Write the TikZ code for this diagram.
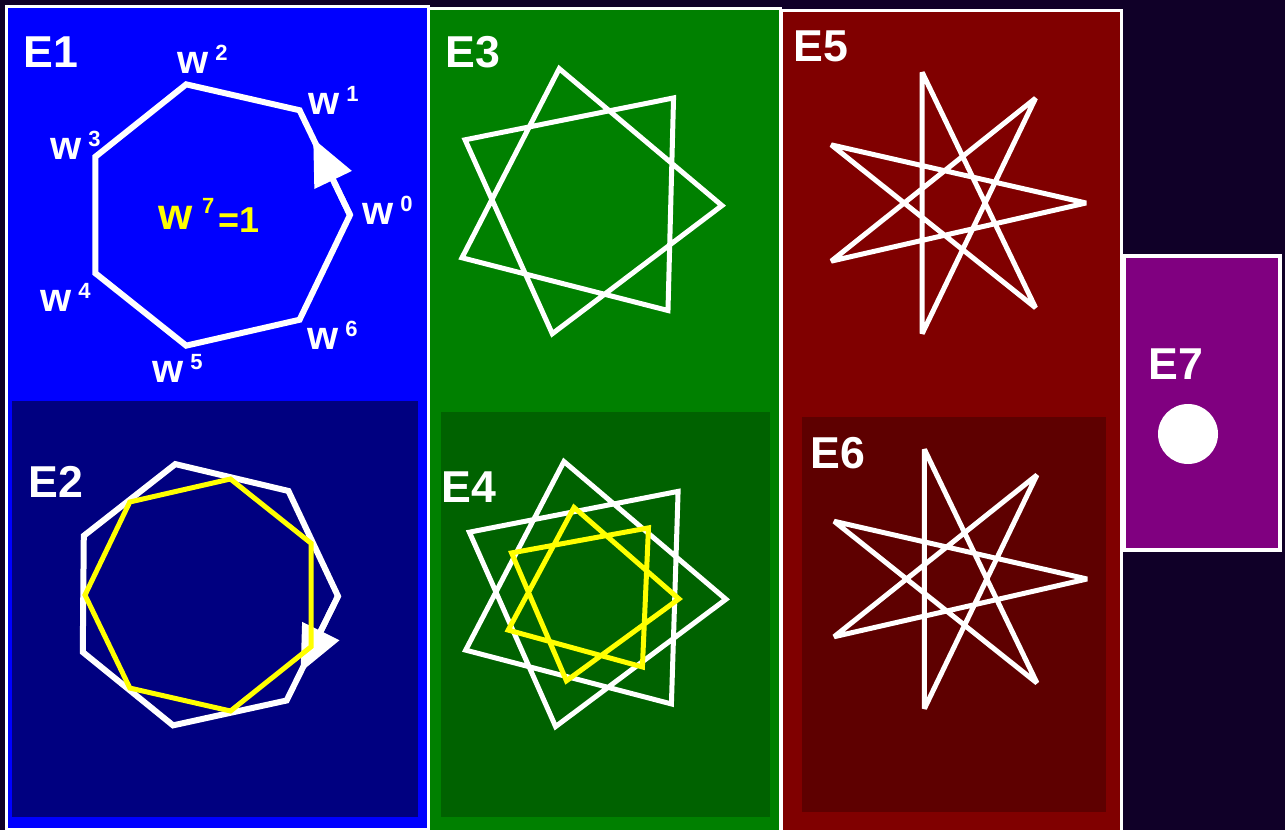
\documentclass[tikz,border=0pt]{standalone}
\usepackage{fontspec}
\setmainfont{Liberation Sans}
\usetikzlibrary{calc,arrows.meta}

\definecolor{bgdark}{RGB}{16,0,40}
\definecolor{panelblue}{RGB}{0,0,255}
\definecolor{panelnavy}{RGB}{0,0,128}
\definecolor{panelgreen}{RGB}{0,128,0}
\definecolor{paneldkgreen}{RGB}{0,98,0}
\definecolor{panelred}{RGB}{128,0,0}
\definecolor{paneldkred}{RGB}{94,0,0}
\definecolor{panelpurple}{RGB}{128,0,128}
\definecolor{rootyellow}{RGB}{255,255,0}

\tikzset{every picture/.style={line width=0.75pt}}
\tikzset{
  panel/.style={draw=white, line width=2.25pt},
  polyline/.style={draw=white, line width=4.5pt},
  starline/.style={draw=white, line width=3.75pt},
  elabel/.style={anchor=base west, inner sep=0pt, text=white, font=\fontsize{33.5}{33.5}\selectfont\bfseries},
  wlabel/.style={anchor=base west, inner sep=0pt, text=white, font=\fontsize{30}{30}\selectfont\bfseries},
  arrowtip/.style={-{Triangle[length=34.5pt,width=30pt]}}
}
\newcommand{\wpow}[1]{w\kern5pt\raisebox{9.75pt}{\fontsize{16.5}{16.5}\selectfont #1}}

\begin{document}
\begin{tikzpicture}[x=0.75pt,y=0.75pt,yscale=-1,xscale=1]
		\useasboundingbox (0,0) rectangle (1285,830);
		\fill[bgdark] (0,0) rectangle (1285,830);
		
		%Shape: Rectangle [E1 panel]
		\draw[panel, fill=panelblue] (6,7) rectangle (428,829);
		%Shape: Rectangle [E2 inset]
		\fill[panelnavy] (12,401) rectangle (418,817);
		%Shape: Rectangle [E3 panel]
		\draw[panel, fill=panelgreen] (428.5,8.5) rectangle (780,834);
		%Shape: Rectangle [E4 inset]
		\fill[paneldkgreen] (441,412) rectangle (770,817);
		%Shape: Rectangle [E5 panel]
		\draw[panel, fill=panelred] (781,11) rectangle (1121,834);
		%Shape: Rectangle [E6 inset]
		\fill[paneldkred] (802,417) rectangle (1106,812);
		%Shape: Rectangle [E7 panel]
		\draw[panel, line width=3pt, fill=panelpurple] (1124,256.5) rectangle (1279.5,549.5);
		
		%Heptagon E1
		\coordinate (ca) at (216,215);
		\foreach \k in {0,...,6}
			\coordinate (a\k) at ($(ca)+({-\k*360/7}:134)$);
		\draw[polyline] (a0) -- (a1) -- (a2) -- (a3) -- (a4) -- (a5) -- (a6) -- cycle;
		\draw[polyline, arrowtip] (a0) -- ($(a0)!0.73!(a1)$);
		
		%Heptagons E2
		\coordinate (cb) at (204,595);
		\foreach \k in {0,...,6}{
			\coordinate (b\k) at ($(cb)+({0.5-\k*360/7}:134)$);
			\coordinate (y\k) at ($(cb)+({25.7-\k*360/7}:119)$);
		}
		\draw[polyline] (b0) -- (b1) -- (b2) -- (b3) -- (b4) -- (b5) -- (b6) -- cycle;
		\draw[polyline, arrowtip] (b0) -- ($(b0)!0.73!(b6)$);
		\draw[polyline, draw=rootyellow, line width=3.75pt] (y0) -- (y1) -- (y2) -- (y3) -- (y4) -- (y5) -- (y6) -- cycle;
		
		%Star E3
		\coordinate (cc) at (586,202);
		\foreach \k in {0,...,6}
			\coordinate (s\k) at ($(cc)+({1.5-\k*360/7}:136)$);
		\draw[starline] (s0) -- (s2) -- (s4) -- (s6) -- (s1) -- (s3) -- (s5) -- cycle;
		
		%Stars E4
		\coordinate (cd) at (590,595);
		\foreach \k in {0,...,6}{
			\coordinate (t\k) at ($(cd)+({1.8-\k*360/7}:136)$);
			\coordinate (u\k) at ($(cd)+({2.5-\k*360/7}:89)$);
		}
		\draw[starline] (t0) -- (t2) -- (t4) -- (t6) -- (t1) -- (t3) -- (t5) -- cycle;
		\draw[starline, draw=rootyellow] (u0) -- (u2) -- (u4) -- (u6) -- (u1) -- (u3) -- (u5) -- cycle;
		
		%Star E5
		\coordinate (ce) at (952,203);
		\foreach \k in {0,...,6}
			\coordinate (p\k) at ($(ce)+({-\k*360/7}:134)$);
		\draw[starline, line join=bevel] (p0) -- (p3) -- (p6) -- (p2) -- (p5) -- (p1) -- (p4) -- cycle;
		
		%Star E6
		\coordinate (cf) at (954,579);
		\foreach \k in {0,...,6}
			\coordinate (q\k) at ($(cf)+({-\k*360/7}:133)$);
		\draw[starline, line join=bevel] (q0) -- (q3) -- (q6) -- (q2) -- (q5) -- (q1) -- (q4) -- cycle;
		
		%Shape: Circle [E7]
		\node[circle, fill=white, inner sep=0pt, minimum size=45pt] (dot) at (1188,434) {};
		
		% Text Node
		\node[elabel] (lone) at (23,68) {E1};
		% Text Node
		\node[elabel] (ltwo) at (28,497) {E2};
		% Text Node
		\node[elabel] (lthree) at (445,68) {E3};
		% Text Node
		\node[elabel] (lfour) at (441,502) {E4};
		% Text Node
		\node[elabel] (lfive) at (793,62) {E5};
		% Text Node
		\node[elabel] (lsix) at (810,468) {E6};
		% Text Node
		\node[elabel] (lseven) at (1148,380) {E7};
		
		% Text Node
		\node[wlabel] (wzero) at (362,225) {\wpow{0}};
		% Text Node
		\node[wlabel] (wone) at (308,115) {\wpow{1}};
		% Text Node
		\node[wlabel] (wtwo) at (177,74) {\wpow{2}};
		% Text Node
		\node[wlabel] (wthree) at (50,160) {\wpow{3}};
		% Text Node
		\node[wlabel] (wfour) at (40,312) {\wpow{4}};
		% Text Node
		\node[wlabel] (wfive) at (152,383) {\wpow{5}};
		% Text Node
		\node[wlabel] (wsix) at (307,350) {\wpow{6}};
		% Text Node
		\node[wlabel, text=rootyellow, font=\fontsize{33}{33}\selectfont\bfseries] (wseven) at (158,230)
			{w\kern7pt\raisebox{12pt}{\fontsize{16.5}{16.5}\selectfont 7}\kern3pt\raisebox{-2.25pt}{\fontsize{27}{27}\selectfont =1}};
\end{tikzpicture}
\end{document}
